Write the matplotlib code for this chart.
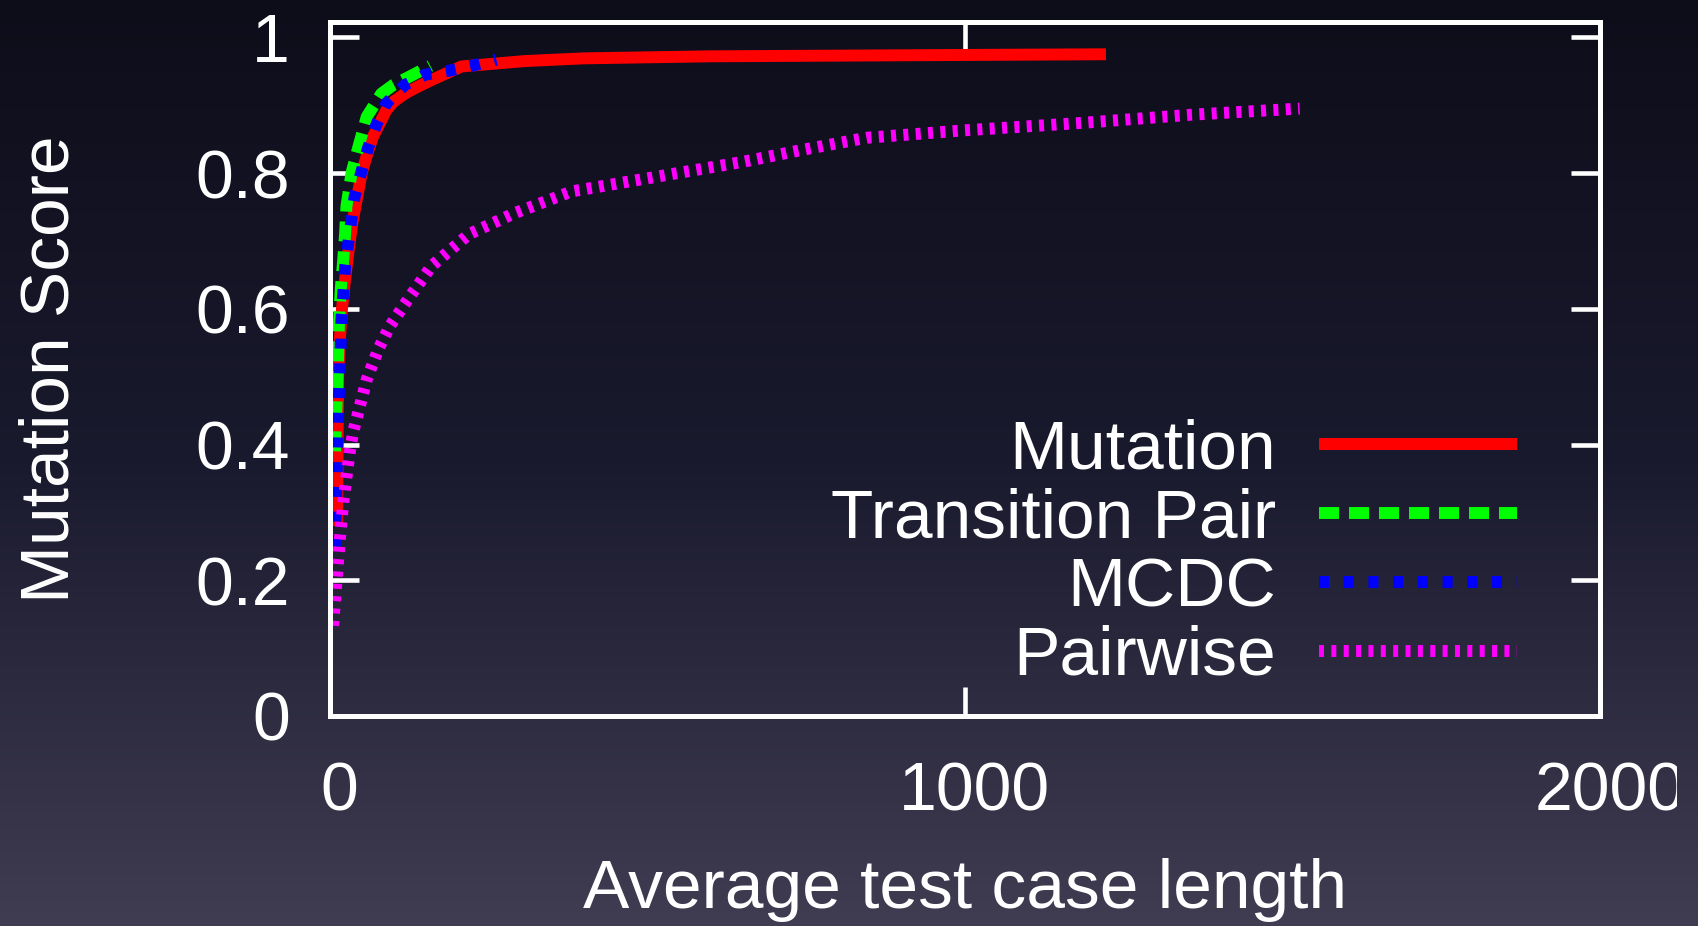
import numpy as np
import matplotlib
matplotlib.use("Agg")
import matplotlib.pyplot as plt
from matplotlib.colors import LinearSegmentedColormap
from matplotlib.transforms import Bbox, ScaledTranslation

plt.rcParams['font.family'] = ['Liberation Sans', 'DejaVu Sans']
plt.rcParams['lines.scale_dashes'] = False

# curves
mutation_x = [11, 12, 13, 16, 19, 24, 30, 35, 42, 50, 60, 68, 80, 89, 100,
              118, 140, 160, 207, 307, 400, 600, 800, 1000, 1222]
mutation_y = [0.28, 0.40, 0.50, 0.56, 0.60, 0.645, 0.69, 0.725, 0.76, 0.80,
              0.832, 0.854, 0.876, 0.893, 0.905, 0.917, 0.928, 0.937, 0.957,
              0.965, 0.969, 0.972, 0.973, 0.974, 0.975]

pair_x = [8, 10, 12, 14, 17, 21, 24, 26, 34, 45, 58, 81, 100, 121, 158]
pair_y = [0.39, 0.45, 0.495, 0.574, 0.628, 0.673, 0.712, 0.751, 0.80, 0.839,
          0.883, 0.917, 0.93, 0.94, 0.958]

mcdc_x = [8, 10, 13, 16, 18, 24, 34, 39, 49, 60, 73, 89, 118, 150, 189, 228, 262]
mcdc_y = [0.25, 0.33, 0.447, 0.516, 0.584, 0.663, 0.732, 0.766, 0.80, 0.837,
          0.871, 0.903, 0.93, 0.945, 0.951, 0.959, 0.967]

pairwise_x = [5, 8, 11, 16, 21, 26, 31, 37, 50, 58, 76, 94, 123, 160, 219, 291,
              381, 517, 653, 743, 845, 1000, 1186, 1357, 1527]
pairwise_y = [0.133, 0.17, 0.207, 0.264, 0.315, 0.352, 0.388, 0.42, 0.467, 0.496,
              0.54, 0.574, 0.614, 0.663, 0.71, 0.741, 0.773, 0.795, 0.817, 0.834,
              0.852, 0.863, 0.874, 0.886, 0.895]

x_ticks = [0, 1000, 2000]
y_ticks = [0, 0.2, 0.4, 0.6, 0.8, 1]
y_tick_labels = ['0', '0.2', '0.4', '0.6', '0.8', '1']

fig = plt.figure(figsize=(16.98, 9.26), dpi=100)

# dark gradient backdrop
bg = fig.add_axes([0, 0, 1, 1], zorder=-10)
grad = np.linspace(0, 1, 256).reshape(-1, 1)
cmap = LinearSegmentedColormap.from_list(
    'bg', [(0, '#0d0d1a'), (0.5, '#1a1a2e'), (1, '#403c52')])
bg.imshow(grad, aspect='auto', cmap=cmap, extent=[0, 1, 0, 1])
bg.axis('off')

ax = fig.add_axes([0.1943, 0.2268, 0.748, 0.7494])
ax.set_facecolor('none')

lw = 8.6
ax.plot(mutation_x, mutation_y, color='#ff0000', lw=lw, label='Mutation',
        solid_capstyle='butt')
ax.plot(pair_x, pair_y, color='#00ff00', lw=lw, label='Transition Pair',
        dashes=(14.4, 7.2), dash_capstyle='butt')
ax.plot(mcdc_x, mcdc_y, color='#0000ff', lw=lw, label='MCDC',
        dashes=(7.2, 10.6), dash_capstyle='butt')
ax.plot(pairwise_x, pairwise_y, color='#ff00ff', lw=lw, label='Pairwise',
        dashes=(3.6, 5.3), dash_capstyle='butt')

ax.set_xlim(0, 2000)
ax.set_ylim(0, 1.0225)
ax.set_xticks(x_ticks)
ax.set_xticklabels([str(t) for t in x_ticks])
ax.set_yticks(y_ticks)
ax.set_yticklabels(y_tick_labels)

for s in ax.spines.values():
    s.set_color('white')
    s.set_linewidth(3.6)

ax.tick_params(direction='in', length=21, width=3.3, top=True, right=True,
               colors='white', labelsize=49)
ax.tick_params(axis='x', pad=32)
ax.tick_params(axis='y', pad=29)

ax.set_xlabel('Average test case length', fontsize=50, color='white')
ax.set_ylabel('Mutation Score', fontsize=50, color='white')
ax.xaxis.set_label_coords(0.5, -0.205)
ax.yaxis.set_label_coords(-0.1945, 0.5)

# x labels sit a bit right of their ticks; the right-most one is cut off
nudge = ScaledTranslation(7 / 72, 0, fig.dpi_scale_trans)
for lab in ax.get_xticklabels():
    lab.set_transform(lab.get_transform() + nudge)
    lab.set_clip_box(Bbox([[0, 0], [1677, 926]]))
    lab.set_clip_on(True)

leg = ax.legend(loc='lower right', bbox_to_anchor=(0.9346, 0.039),
                markerfirst=False, frameon=False, fontsize=50,
                handlelength=2.85, handletextpad=0.62, labelspacing=0.07,
                borderpad=0, borderaxespad=0)
for t in leg.get_texts():
    t.set_color('white')

fig.savefig('out.png', dpi=100)
